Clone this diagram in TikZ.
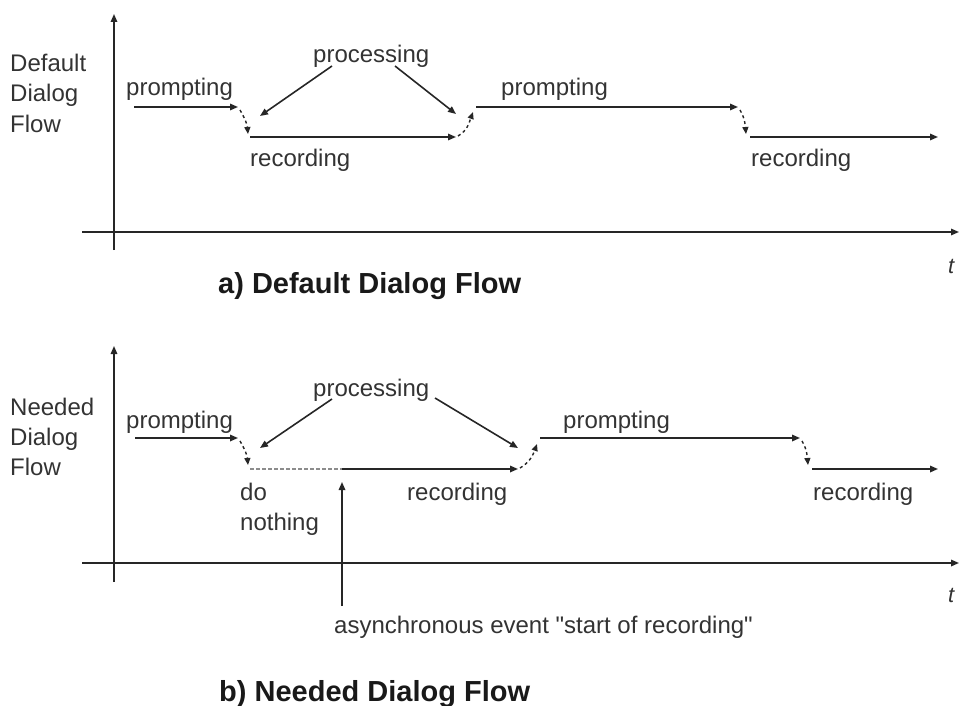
\documentclass[tikz,border=0pt]{standalone}
\usepackage{fontspec}
\setmainfont{Liberation Sans}
\newcommand\sqt{{\XeTeXglyph\XeTeXglyphindex "quotedbl"\relax}}
\usetikzlibrary{arrows.meta}
\begin{document}
\begin{tikzpicture}[x=1pt,y=-1pt,
  ln/.style={draw=black!85,line width=1.6pt,-{Triangle[length=8pt,width=6.5pt]}},
  ax/.style={draw=black!85,line width=1.6pt,-{Triangle[length=8pt,width=6.5pt]}},
  dsh/.style={draw=black!85,line width=1.4pt,dash pattern=on 3pt off 3pt,-{Triangle[length=7pt,width=6pt]}},
  faint/.style={draw=black!45,line width=1.2pt,dash pattern=on 4pt off 2pt},
  lbl/.style={inner sep=0pt,anchor=base west,text=black!80,font=\fontsize{24}{30}\selectfont},
  captxt/.style={inner sep=0pt,anchor=base west,text=black!90,font=\bfseries\fontsize{29}{34}\selectfont},
  tl/.style={inner sep=0pt,anchor=base west,text=black!80,font=\itshape\fontsize{22}{26}\selectfont}]
\useasboundingbox (0,0) rectangle (961,706);

% ---------- top panel ----------
\coordinate (ayb) at (114,250); \coordinate (ayt) at (114,14);
\coordinate (axl) at (82,232);  \coordinate (axr) at (959,232);
\draw[ax] (ayb) -- (ayt);
\draw[ax] (axl) -- (axr);
\node[tl] (ta) at (948,273) {t};

\node[lbl] (dflow1) at (10,72) {Default};
\node[lbl] (dflow2) at (10,102) {Dialog};
\node[lbl] (dflow3) at (10,132) {Flow};

\coordinate (p1s) at (134,107); \coordinate (p1e) at (238,107);
\coordinate (d1s) at (240,110); \coordinate (d1e) at (248,134);
\coordinate (r1s) at (250,137); \coordinate (r1e) at (456,137);
\coordinate (d2s) at (458,136); \coordinate (d2e) at (473,112);
\coordinate (p2s) at (476,107); \coordinate (p2e) at (738,107);
\coordinate (d3s) at (740,110); \coordinate (d3e) at (746,134);
\coordinate (r2s) at (750,137); \coordinate (r2e) at (938,137);
\draw[ln] (p1s) -- (p1e);
\draw[dsh] (d1s) to[out=-60,in=95] (d1e);
\draw[ln] (r1s) -- (r1e);
\draw[dsh] (d2s) to[out=30,in=-110] (d2e);
\draw[ln] (p2s) -- (p2e);
\draw[dsh] (d3s) to[out=-60,in=95] (d3e);
\draw[ln] (r2s) -- (r2e);

\node[lbl] (pa1) at (126,96) {prompting};
\node[lbl] (ra1) at (250,166) {recording};
\node[lbl] (pa2) at (501,96) {prompting};
\node[lbl] (ra2) at (751,166) {recording};
\node[lbl] (proca) at (313,63) {processing};
\coordinate (pcl) at (332,66); \coordinate (pcr) at (395,66);
\coordinate (pctl) at (260,116); \coordinate (pctr) at (456,114);
\draw[ln] (pcl) -- (pctl);
\draw[ln] (pcr) -- (pctr);

\node[captxt] (capa) at (218,293) {a) Default Dialog Flow};

% ---------- bottom panel ----------
\coordinate (byb) at (114,582); \coordinate (byt) at (114,346);
\coordinate (bxl) at (82,563);  \coordinate (bxr) at (959,563);
\draw[ax] (byb) -- (byt);
\draw[ax] (bxl) -- (bxr);
\node[tl] (tb) at (948,602) {t};

\node[lbl] (nflow1) at (10,415) {Needed};
\node[lbl] (nflow2) at (10,445) {Dialog};
\node[lbl] (nflow3) at (10,475) {Flow};

\coordinate (q1s) at (135,438); \coordinate (q1e) at (238,438);
\coordinate (e1s) at (240,441); \coordinate (e1e) at (248,465);
\coordinate (nds) at (250,469); \coordinate (ev) at (342,469);
\coordinate (s1e) at (518,469);
\coordinate (e2s) at (520,468); \coordinate (e2e) at (537,444);
\coordinate (q2s) at (540,438); \coordinate (q2e) at (800,438);
\coordinate (e3s) at (802,441); \coordinate (e3e) at (808,465);
\coordinate (s2s) at (812,469); \coordinate (s2e) at (938,469);
\draw[ln] (q1s) -- (q1e);
\draw[dsh] (e1s) to[out=-60,in=95] (e1e);
\draw[faint] (nds) -- (ev);
\draw[ln] (ev) -- (s1e);
\draw[dsh] (e2s) to[out=30,in=-110] (e2e);
\draw[ln] (q2s) -- (q2e);
\draw[dsh] (e3s) to[out=-60,in=95] (e3e);
\draw[ln] (s2s) -- (s2e);

\node[lbl] (pb1) at (126,428) {prompting};
\node[lbl] (dn1) at (240,500) {do};
\node[lbl] (dn2) at (240,530) {nothing};
\node[lbl] (rb1) at (407,500) {recording};
\node[lbl] (pb2) at (563,428) {prompting};
\node[lbl] (rb2) at (813,500) {recording};
\node[lbl] (procb) at (313,396) {processing};
\coordinate (qcl) at (332,399); \coordinate (qcr) at (435,398);
\coordinate (qctl) at (260,448); \coordinate (qctr) at (518,448);
\draw[ln] (qcl) -- (qctl);
\draw[ln] (qcr) -- (qctr);

\coordinate (evb) at (342,606); \coordinate (evt) at (342,482);
\draw[ln] (evb) -- (evt);
\node[lbl] (async) at (334,633) {asynchronous event \sqt start of recording\sqt};

\node[captxt] (capb) at (219,701) {b) Needed Dialog Flow};
\end{tikzpicture}
\end{document}
